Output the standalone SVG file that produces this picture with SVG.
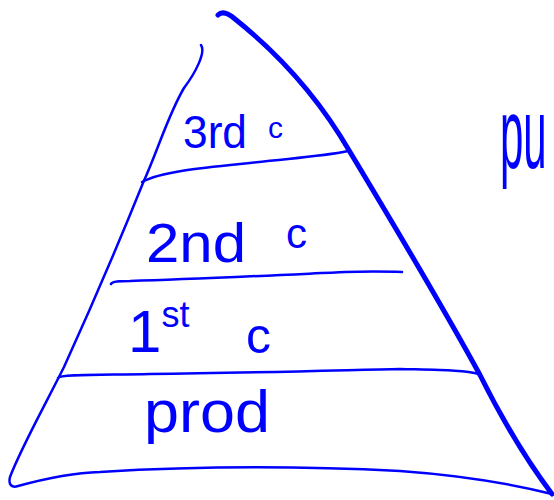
<svg xmlns="http://www.w3.org/2000/svg" width="554" height="500" viewBox="0 0 554 500">
<style>
.ink{fill:none;stroke:#0000ff;stroke-linecap:round;stroke-linejoin:round}
.thin{stroke-width:2.5}
.thick{stroke-width:5}
.hand{fill:#0000ff;font-family:"Liberation Sans","DejaVu Sans",sans-serif}
</style>
<rect width="554" height="500" fill="#ffffff"/>
<g id="pyramid">
<path class="ink thin" d="M201,45 C206,52 196,72 184,88 C168,115 158,150 143,183 C120,240 90,310 64,367 C45,405 20,450 10,477 C8,485 12,488 18,486 C40,480 70,473 100,472 C200,466 300,466 400,471 C470,476 520,486 552,494"/>
<path class="ink thick" d="M218,15 C222,11 228,13 235,19 C280,55 320,100 350,152 C400,235 450,320 480,375 C505,425 530,465 552,494"/>
</g>
<g id="dividers">
<path class="ink thin" d="M142,182 C160,172 200,168 240,164 C290,158 320,157 348,151"/>
<path class="ink thin" d="M111,284 C112,281 120,281 130,281 C200,279 300,274 345,272 C380,271 395,272 402,272"/>
<path class="ink thin" d="M58,378 C60,374 100,375 150,374 C250,373 350,370 400,369 C440,370 465,370 479,374"/>
</g>
<g id="layer-3rd">
<text class="hand" x="183" y="148" font-size="46" textLength="64" lengthAdjust="spacingAndGlyphs">3rd</text>
<text class="hand" x="268" y="138" font-size="30">c</text>
</g>
<g id="layer-2nd">
<text class="hand" x="146" y="262" font-size="56" textLength="100" lengthAdjust="spacingAndGlyphs">2nd</text>
<text class="hand" x="286" y="248" font-size="42">c</text>
</g>
<g id="layer-1st">
<text class="hand" x="128" y="352" font-size="60">1<tspan font-size="36" dy="-25">st</tspan></text>
<text class="hand" x="246" y="353" font-size="50">c</text>
</g>
<g id="layer-prod">
<text class="hand" x="144" y="432" font-size="60" textLength="126" lengthAdjust="spacingAndGlyphs">prod</text>
</g>
<g id="side-note">
<text class="hand" transform="matrix(0.42,0,0,1,500,168)" x="0" y="0" font-size="100">pu</text>
</g>
</svg>
